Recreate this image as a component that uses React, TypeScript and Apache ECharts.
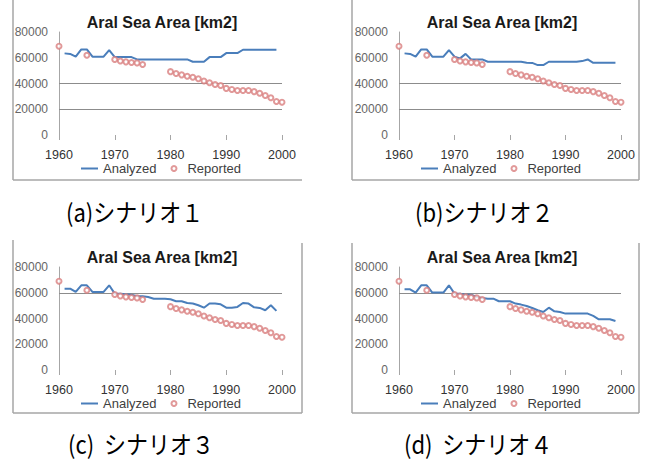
import React, { useEffect, useRef } from "react";
import * as echarts from "echarts";

// ---- data ----
const analyzedYears = [
  1961, 1962, 1963, 1964, 1965, 1966, 1967, 1968, 1969,
  1970, 1971, 1972, 1973, 1974, 1975, 1976, 1977, 1978, 1979,
  1980, 1981, 1982, 1983, 1984, 1985, 1986, 1987, 1988, 1989,
  1990, 1991, 1992, 1993, 1994, 1995, 1996, 1997, 1998, 1999,
];

const analyzedA = [
  63400, 63000, 60800, 66500, 66500, 60800, 60800, 60800, 66000,
  60500, 60500, 60500, 60500, 58700, 58700, 58700, 58700, 58700, 58700,
  58700, 58700, 58700, 58700, 56900, 56900, 56900, 60500, 60500, 60500,
  63600, 63600, 63600, 66200, 66200, 66200, 66200, 66200, 66200, 66200,
];

const analyzedB = [
  63400, 63000, 60800, 66500, 66500, 60800, 60800, 60800, 66000,
  60800, 59500, 63000, 58700, 58700, 58700, 56900, 56900, 56900, 56900,
  56900, 56900, 56900, 56100, 56000, 54300, 54300, 56900, 56900, 56900,
  56900, 56900, 56900, 57400, 58700, 56100, 56100, 56100, 56100, 56100,
];

const analyzedC = [
  63200, 63200, 60600, 65800, 65800, 60600, 60600, 60600, 65800,
  59300, 59300, 58800, 58500, 57300, 57300, 56700, 55400, 55400, 55400,
  54900, 53400, 53400, 52000, 51600, 50300, 48400, 51600, 51600, 51000,
  48400, 48400, 49000, 52000, 51600, 48700, 48200, 46400, 50300, 45900,
];

const analyzedD = [
  62700, 62700, 60100, 65800, 65800, 60100, 60100, 60100, 65800,
  59300, 59300, 58500, 58500, 56700, 56000, 55400, 55400, 53400, 53400,
  53400, 51600, 50800, 49700, 48200, 46400, 45000, 48400, 45600, 45000,
  43800, 43800, 43800, 43800, 43800, 42000, 39400, 39400, 39400, 38100,
];

const reportedYears = [
  1960, 1965, 1970, 1971, 1972, 1973, 1974, 1975,
  1980, 1981, 1982, 1983, 1984, 1985, 1986, 1987, 1988, 1989,
  1990, 1991, 1992, 1993, 1994, 1995, 1996, 1997, 1998, 1999, 2000,
];
const reportedValues = [
  69000, 62000, 58600, 57500, 56800, 56300, 56000, 54700,
  49200, 47700, 46700, 45600, 44800, 43700, 42000, 40600, 39200, 38500,
  36200, 35400, 34600, 34500, 34500, 33700, 32400, 30700, 28900, 26000, 25500,
];

const gridLinesTop = [20000, 40000];
const gridLinesBottom = [60000];

const xTicks = { min: 1960, max: 2000, interval: 10 };
const yTicks = { min: 0, max: 80000, interval: 20000 };

const titleText = "Aral Sea Area [km2]";
const seriesNames = ["Analyzed", "Reported"];
const captions = ["(a)シナリオ１", "(b)シナリオ２", "(c)  シナリオ３", "(d)  シナリオ４"];

// ---- layout ----
const panels = [
  { data: analyzedA, grid: gridLinesTop, left: 59, top: 32, width: 223, height: 103,
    titleX: 162, titleY: 22, legendLeft: 80, legendTop: 162, capX: 66, capY: 211 },
  { data: analyzedB, grid: gridLinesTop, left: 399, top: 32, width: 222, height: 103,
    titleX: 502, titleY: 22, legendLeft: 420, legendTop: 162, capX: 415, capY: 211 },
  { data: analyzedC, grid: gridLinesBottom, left: 59, top: 267, width: 223, height: 103,
    titleX: 162, titleY: 257, legendLeft: 80, legendTop: 397, capX: 68, capY: 443 },
  { data: analyzedD, grid: gridLinesBottom, left: 399, top: 267, width: 222, height: 103,
    titleX: 502, titleY: 257, legendLeft: 420, legendTop: 397, capX: 404, capY: 443 },
];

const borderColor = "#a6a6a6";
const borders = [
  // (a)
  [13, 0, 13, 180], [13, 180, 302, 180],
  // (b)
  [352, 0, 352, 180], [639, 0, 639, 180], [352, 180, 639, 180],
  // (c)
  [13, 240, 13, 413], [302, 243, 302, 413], [13, 413, 302, 413],
  // (d)
  [352, 243, 352, 413], [639, 243, 639, 413], [352, 413, 639, 413],
];

export default function App() {
  const ref = useRef<HTMLDivElement>(null);

  useEffect(() => {
    document.body.style.margin = "0";
    if (!ref.current) return;
    const chart = echarts.init(ref.current, undefined, { renderer: "svg" });

    const grids: any[] = [];
    const xAxes: any[] = [];
    const yAxes: any[] = [];
    const series: any[] = [];
    const legends: any[] = [];
    const graphics: any[] = [];

    panels.forEach((p, i) => {
      grids.push({ left: p.left, top: p.top, width: p.width, height: p.height, containLabel: false });
      xAxes.push({
        type: "value",
        gridIndex: i,
        min: xTicks.min,
        max: xTicks.max,
        interval: xTicks.interval,
        axisLine: { show: false },
        axisTick: { show: true, length: 5, lineStyle: { color: borderColor } },
        splitLine: { show: false },
        axisLabel: {
          color: "#333",
          fontSize: 12.5,
          margin: 13,
          fontFamily: "Liberation Sans",
          formatter: (v: number) => String(v),
        },
      });
      yAxes.push({
        type: "value",
        gridIndex: i,
        min: yTicks.min,
        max: yTicks.max,
        interval: yTicks.interval,
        axisLine: { show: true, lineStyle: { color: borderColor, width: 1 } },
        axisTick: { show: false },
        splitLine: { show: false },
        axisLabel: {
          color: "#666",
          fontSize: 12,
          margin: 11,
          fontFamily: "Liberation Sans",
          formatter: (v: number) => String(v),
        },
      });
      series.push({
        name: seriesNames[0],
        type: "line",
        xAxisIndex: i,
        yAxisIndex: i,
        data: analyzedYears.map((y, j) => [y, p.data[j]]),
        symbol: "none",
        lineStyle: { color: "#4a7ebb", width: 2 },
        itemStyle: { color: "#4a7ebb" },
        z: 3,
        markLine: {
          silent: true,
          z: 1,
          symbol: ["none", "none"],
          label: { show: false },
          lineStyle: { color: "#8c8c8c", type: "solid", width: 1 },
          data: p.grid.map((v) => ({ yAxis: v })),
        },
      });
      series.push({
        name: seriesNames[1],
        type: "scatter",
        xAxisIndex: i,
        yAxisIndex: i,
        data: reportedYears.map((y, j) => [y, reportedValues[j]]),
        symbol: "emptyCircle",
        symbolSize: 5,
        itemStyle: { color: "#d98080", borderColor: "#d98080", borderWidth: 1 },
        z: 4,
      });
      legends.push({
        left: p.legendLeft,
        top: p.legendTop,
        padding: 0,
        itemWidth: 17,
        itemHeight: 5,
        itemGap: 14,
        data: [
          { name: seriesNames[0], itemStyle: { opacity: 0 } },
          { name: seriesNames[1] },
        ],
        textStyle: { color: "#404040", fontSize: 13, fontFamily: "Liberation Sans" },
      });
      graphics.push({
        type: "text",
        x: p.titleX,
        y: p.titleY,
        style: {
          text: titleText,
          font: 'bold 16px "Liberation Sans"',
          fill: "#1a1a1a",
          textAlign: "center",
          textVerticalAlign: "middle",
        },
      });
      graphics.push({
        type: "text",
        x: p.capX,
        y: p.capY,
        scaleY: 1.12,
        style: {
          text: captions[i],
          font: '22px "Noto Sans CJK JP"',
          fill: "#000",
          textAlign: "left",
          textVerticalAlign: "middle",
        },
      });
    });

    borders.forEach((b) => {
      graphics.push({
        type: "line",
        shape: { x1: b[0], y1: b[1], x2: b[2], y2: b[3] },
        style: { stroke: borderColor, lineWidth: 1.5 },
        silent: true,
      });
    });

    chart.setOption({
      animation: false,
      backgroundColor: "#fff",
      grid: grids,
      xAxis: xAxes,
      yAxis: yAxes,
      series,
      legend: legends,
      graphic: graphics,
    });

    return () => chart.dispose();
  }, []);

  return <div ref={ref} style={{ width: 648, height: 461 }} />;
}
